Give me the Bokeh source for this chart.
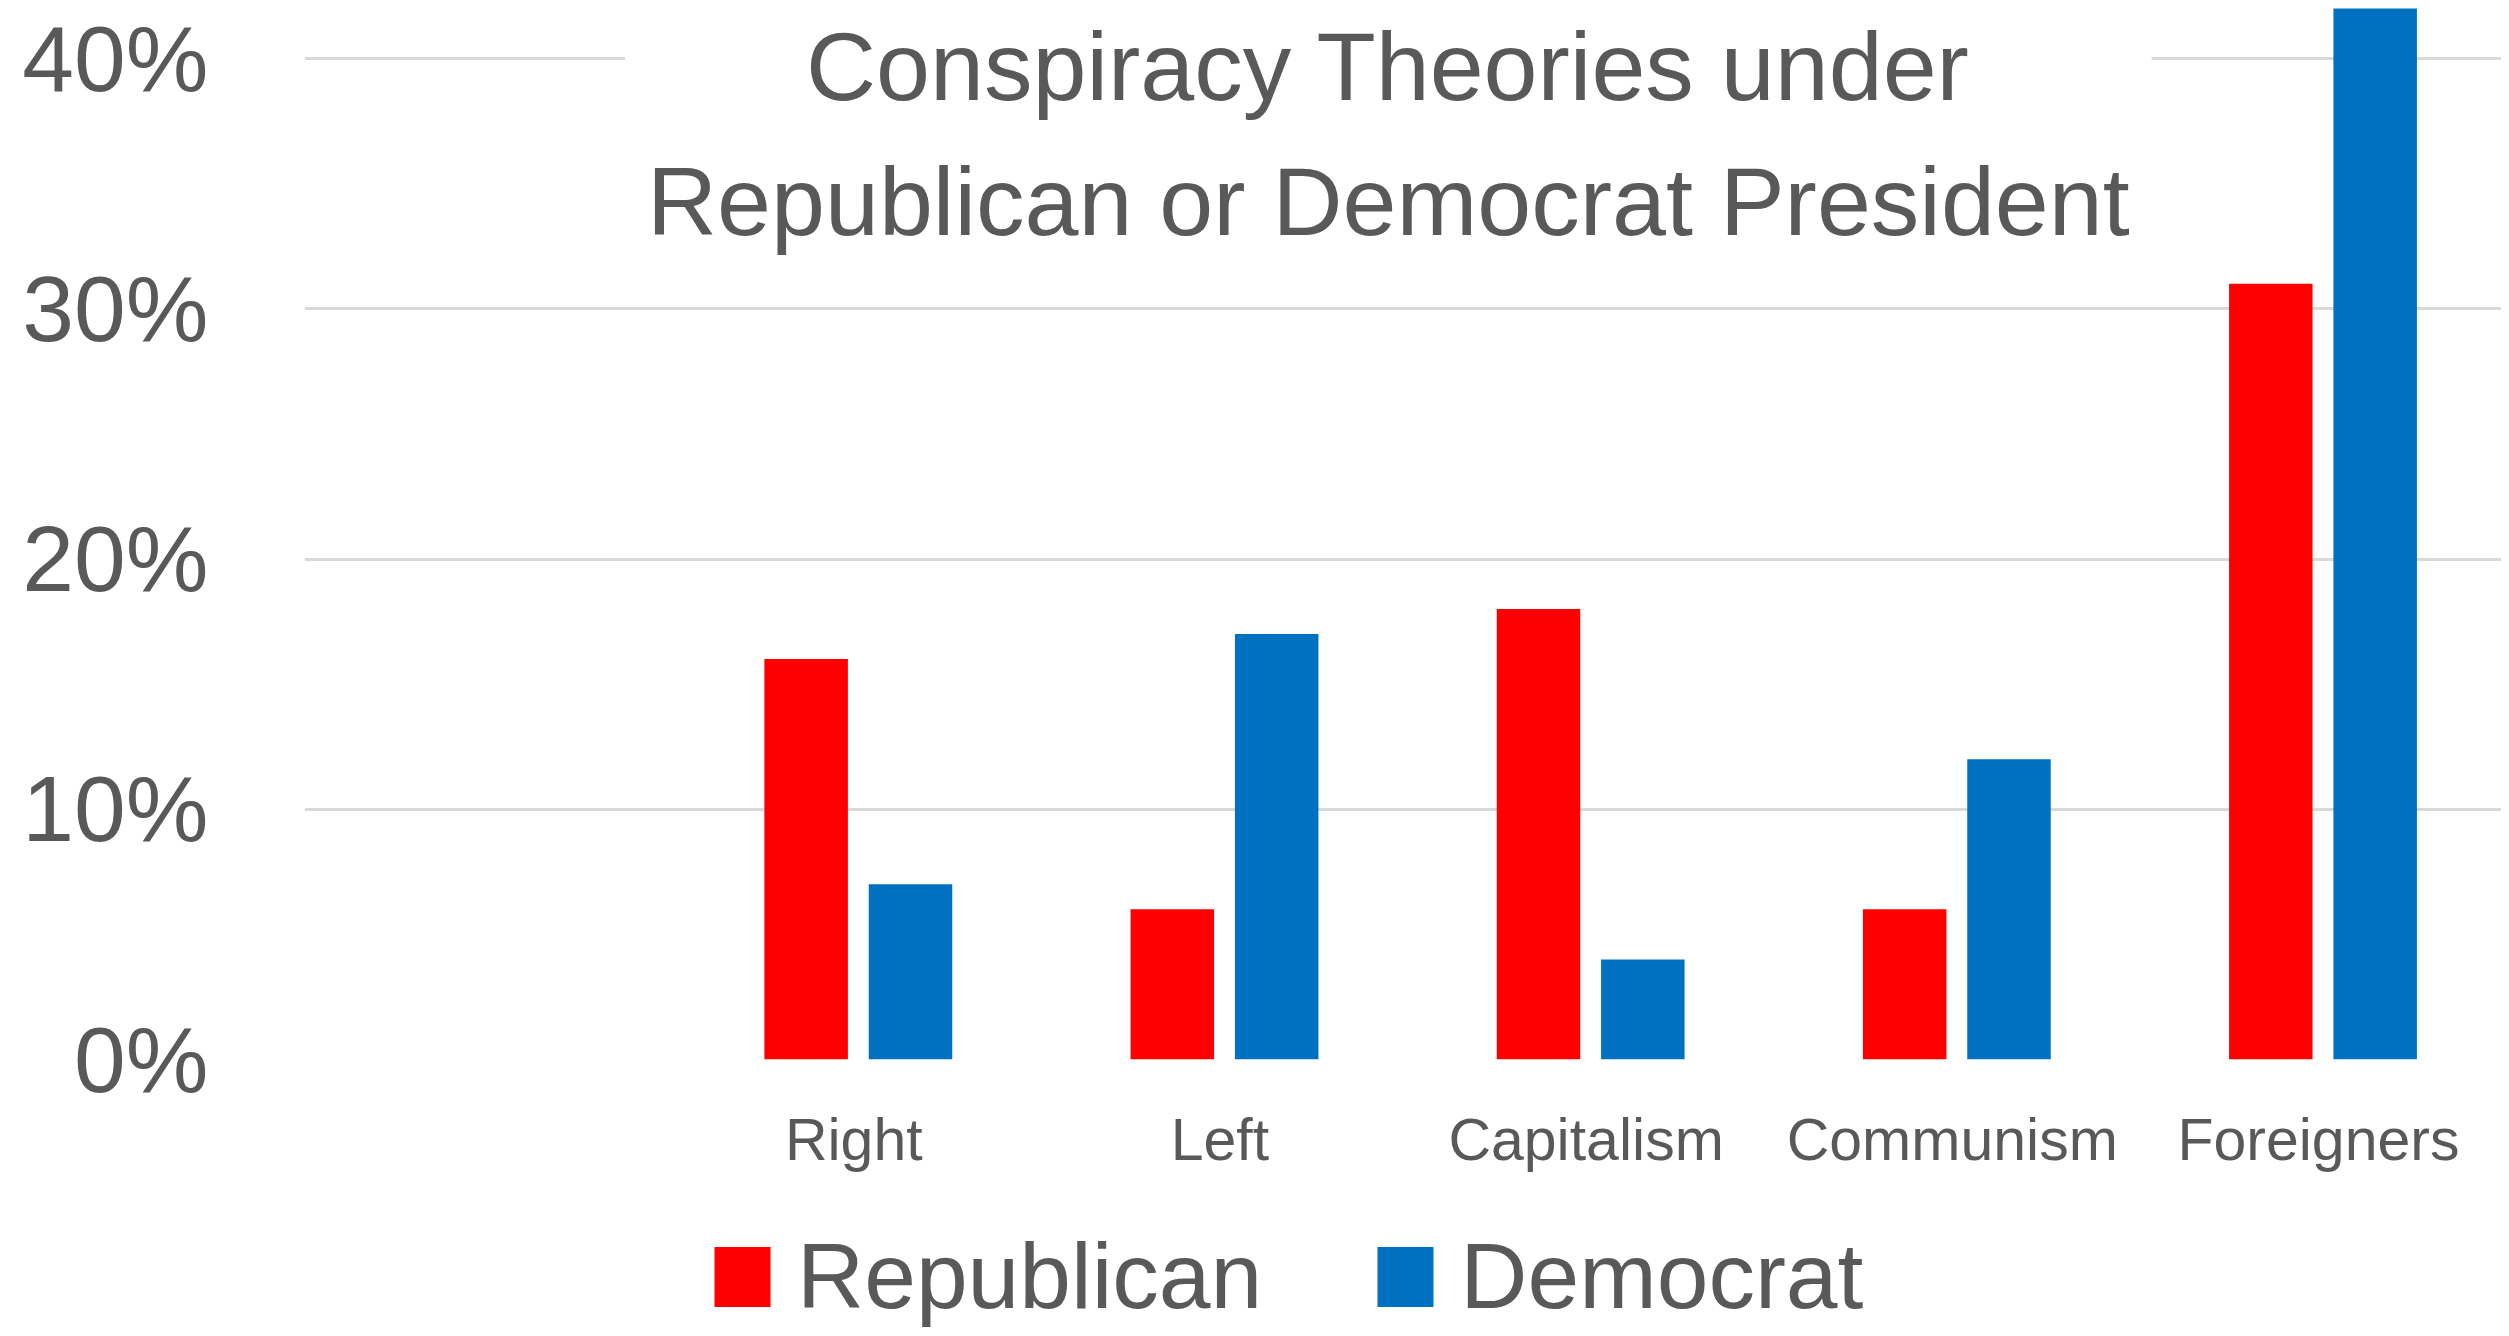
from bokeh.plotting import figure
from bokeh.layouts import column
from bokeh.models import (ColumnDataSource, FactorRange, Range1d, NumeralTickFormatter,
                          FixedTicker, Legend, LegendItem, Label)
from bokeh.transform import dodge
from bokeh.embed import file_html
from bokeh.resources import INLINE

# ---- data ----
categories = ["Right", "Left", "Capitalism", "Communism", "Foreigners"]
republican = [0.16, 0.06, 0.18, 0.06, 0.31]
democrat = [0.07, 0.17, 0.04, 0.12, 0.42]
series_names = ["Republican", "Democrat"]
y_ticks = [0.0, 0.1, 0.2, 0.3, 0.4]
title_lines = ["Conspiracy Theories under", "Republican or Democrat President"]

RED = "#FF0000"
BLUE = "#0070C0"
TEXT = "#595959"
GRID = "#D9D9D9"
FONT = "Liberation Sans"

W = 2501
MAIN_H = 1184
LEG_H = 144

source = ColumnDataSource(data=dict(cat=categories, rep=republican, dem=democrat))

factors = [" "] + categories
p = figure(width=W, height=MAIN_H, output_backend="svg", toolbar_location=None,
           x_range=FactorRange(factors=factors, range_padding=0),
           y_range=Range1d(0, 0.4204),
           min_border_left=304, min_border_right=0, min_border_top=7,
           min_border_bottom=MAIN_H - 1059)
p.outline_line_color = None
p.background_fill_color = "white"

r1 = p.vbar(x=dodge("cat", -0.13, range=p.x_range), top="rep", width=0.228,
            source=source, fill_color=RED, line_color=None)
r2 = p.vbar(x=dodge("cat", 0.155, range=p.x_range), top="dem", width=0.228,
            source=source, fill_color=BLUE, line_color=None)

# axes
p.xgrid.grid_line_color = None
p.ygrid.grid_line_color = GRID
p.ygrid.grid_line_width = 3
p.yaxis.ticker = FixedTicker(ticks=y_ticks)
p.yaxis.formatter = NumeralTickFormatter(format="0%")
for ax in (p.xaxis[0], p.yaxis[0]):
    ax.axis_line_color = None
    ax.major_tick_line_color = None
    ax.minor_tick_line_color = None
    ax.major_tick_out = 0
    ax.major_tick_in = 0
    ax.major_label_text_color = TEXT
    ax.major_label_text_font = FONT
p.yaxis.major_label_text_font_size = "93px"
p.yaxis.major_label_standoff = 96
p.xaxis.major_label_text_font_size = "59px"
p.xaxis.major_label_standoff = 47

# title (two lines, white box masks the top gridline)
t1 = Label(x=2.96, y=0.3968, text=title_lines[0], text_align="center",
           text_baseline="alphabetic", text_font_size="97px", text_font=FONT,
           text_color=TEXT, background_fill_color="white", padding=(181, 12))
t2 = Label(x=2.96, y=0.343, text=title_lines[1], text_align="center",
           text_baseline="alphabetic", text_font_size="97px", text_font=FONT,
           text_color=TEXT)
p.add_layout(t1)
p.add_layout(t2)

# legend strip below the chart (key renderers hold one zero-height bar each)
lg = figure(width=W, height=LEG_H, output_backend="svg", toolbar_location=None,
            x_range=Range1d(0, 1), y_range=Range1d(0, 1),
            min_border_left=0, min_border_right=0, min_border_top=0, min_border_bottom=0)
lg.axis.visible = False
lg.grid.visible = False
lg.outline_line_color = None
key_src = ColumnDataSource(data=dict(x=[-1.0], top=[0.0]))
k1 = lg.vbar(x="x", top="top", width=0.01, source=key_src, fill_color=RED, line_color=None)
k2 = lg.vbar(x="x", top="top", width=0.01, source=key_src, fill_color=BLUE, line_color=None)

legend = Legend(items=[LegendItem(label=series_names[0], renderers=[k1]),
                       LegendItem(label=series_names[1], renderers=[k2])],
                orientation="horizontal", location=(403, -2),
                glyph_width=70, glyph_height=75, label_standoff=20, spacing=108,
                padding=0, margin=0, border_line_alpha=0, background_fill_alpha=0,
                label_text_font_size="93px", label_text_font=FONT, label_text_color=TEXT)
lg.add_layout(legend)

layout = column(p, lg, spacing=0)
open("out.html", "w").write(file_html(layout, INLINE))
